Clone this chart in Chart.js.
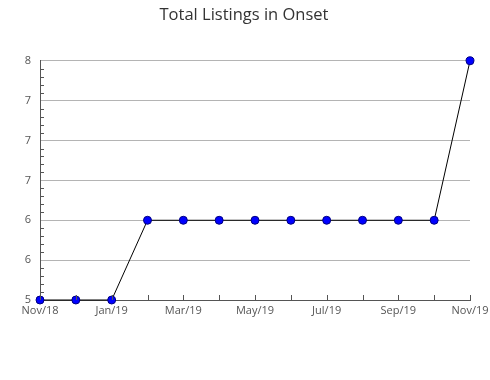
<!DOCTYPE html>
<html>
<head>
<meta charset="utf-8">
<script src="https://cdn.jsdelivr.net/npm/chart.js@4"></script>
<style>
  html, body { margin: 0; padding: 0; background: #fff; }
  #wrap { width: 490px; height: 380px; }
</style>
</head>
<body>
<div id="wrap"><canvas id="lineChart" width="490" height="380"></canvas></div>
<script>
// data
const months = ['Nov/18', 'Dec/18', 'Jan/19', 'Feb/19', 'Mar/19', 'Apr/19', 'May/19',
                'Jun/19', 'Jul/19', 'Aug/19', 'Sep/19', 'Oct/19', 'Nov/19'];
const listings = [5, 5, 5, 6, 6, 6, 6, 6, 6, 6, 6, 6, 8];
const yTickValues = [5, 5.5, 6, 6.5, 7, 7.5, 8];
const yTickLabels = ['5', '6', '6', '7', '7', '7', '8'];

// tick marks drawn inside the plot area, like the original
const innerTicks = {
    id: 'innerTicks',
    afterDraw(chart) {
        const ctx = chart.ctx;
        const x = chart.scales.x, y = chart.scales.y;
        ctx.save();
        ctx.strokeStyle = '#555';
        ctx.lineWidth = 1;
        ctx.beginPath();
        for (let i = 0; i < months.length; i++) {
            const px = Math.round(x.getPixelForValue(i)) + 0.5;
            ctx.moveTo(px, y.bottom);
            ctx.lineTo(px, y.bottom - 5);
        }
        for (let i = 0; i < yTickValues.length - 1; i++) {
            const step = (yTickValues[i + 1] - yTickValues[i]) / 5;
            for (let k = 1; k < 5; k++) {
                const py = Math.round(y.getPixelForValue(yTickValues[i] + step * k)) + 0.5;
                ctx.moveTo(x.left, py);
                ctx.lineTo(x.left + 4, py);
            }
        }
        ctx.stroke();
        ctx.restore();
    }
};

const lineChart = new Chart(document.getElementById('lineChart'), {
    type: 'line',
    data: {
        labels: months,
        datasets: [{
            data: listings,
            borderColor: '#000',
            borderWidth: 1,
            tension: 0,
            pointRadius: 4,
            pointHoverRadius: 4,
            pointBackgroundColor: '#0000ff',
            pointBorderColor: '#000080',
            pointBorderWidth: 1,
            clip: false
        }]
    },
    options: {
        responsive: false,
        animation: false,
        layout: { padding: { left: 18, right: 20, top: 0, bottom: 54 } },
        plugins: {
            legend: { display: false },
            tooltip: { enabled: false },
            title: {
                display: true,
                text: 'Total Listings in Onset',
                color: '#333',
                font: { family: 'Open Sans', size: 16.5, weight: 'normal' },
                padding: { top: 5, bottom: 36 }
            }
        },
        scales: {
            x: {
                type: 'category',
                offset: false,
                grid: { display: false, drawTicks: false },
                border: { color: '#555' },
                ticks: {
                    autoSkip: false,
                    maxRotation: 0,
                    padding: 4,
                    color: '#555',
                    font: { family: 'Open Sans', size: 11 },
                    callback: (v, i) => i % 2 === 0 ? months[i] : ''
                },
                afterFit: s => { s.height = 26; s.paddingLeft = 0; s.paddingRight = 0; }
            },
            y: {
                min: 5,
                max: 8,
                afterBuildTicks: s => { s.ticks = yTickValues.map(v => ({ value: v })); },
                grid: { color: '#b4b4b4', drawTicks: false },
                border: { color: '#555' },
                ticks: {
                    padding: 9,
                    color: '#555',
                    font: { family: 'Open Sans', size: 11 },
                    callback: (v, i) => yTickLabels[i]
                },
                afterFit: s => { s.width = 22; s.paddingTop = 0; s.paddingBottom = 0; }
            }
        }
    },
    plugins: [innerTicks]
});
</script>
</body>
</html>
